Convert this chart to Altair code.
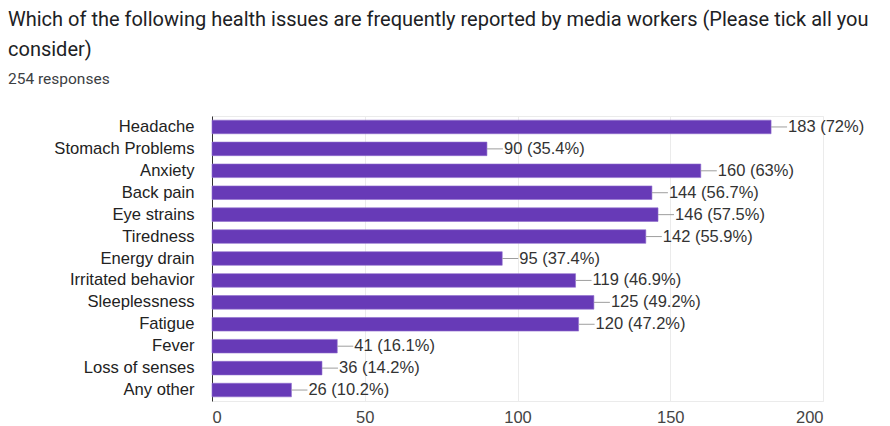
import altair as alt
import pandas as pd

categories = ["Headache", "Stomach Problems", "Anxiety", "Back pain", "Eye strains",
              "Tiredness", "Energy drain", "Irritated behavior", "Sleeplessness",
              "Fatigue", "Fever", "Loss of senses", "Any other"]
counts = [183, 90, 160, 144, 146, 142, 95, 119, 125, 120, 41, 36, 26]
percents = ["72%", "35.4%", "63%", "56.7%", "57.5%", "55.9%", "37.4%", "46.9%",
            "49.2%", "47.2%", "16.1%", "14.2%", "10.2%"]
x_ticks = [0, 50, 100, 150, 200]

df = pd.DataFrame({"issue": categories, "count": counts, "pct": percents})
df["label"] = [f"{c} ({p})" for c, p in zip(counts, percents)]

y_enc = alt.Y("issue:N", sort=categories, title=None,
              scale=alt.Scale(paddingInner=0.38, paddingOuter=0.19),
              axis=alt.Axis(labelFont="Liberation Sans", labelFontSize=16.6,
                            labelColor="#222222", labelPadding=18, ticks=False,
                            domainColor="#333333", domainWidth=1, labelLimit=300))
x_enc = alt.X("count:Q", title=None,
              scale=alt.Scale(domain=[0, 200], nice=False),
              axis=alt.Axis(values=x_ticks, labelFont="Liberation Sans", labelFontSize=16.5,
                            labelColor="#444444", labelPadding=8, ticks=False,
                            domain=False, gridColor="#ebebeb"))

bars = alt.Chart(df).mark_bar(color="#673AB7", stroke="#8f6ccc", strokeWidth=0.6).encode(
    x=x_enc, y=y_enc)
leaders = alt.Chart(df).mark_rule(color="#9e9e9e", strokeWidth=1, x2Offset=16).encode(
    x="count:Q", x2="count:Q", y=alt.Y("issue:N", sort=categories))
labels = alt.Chart(df).mark_text(align="left", baseline="middle", dx=17,
                                 font="Liberation Sans", fontSize=16.5,
                                 color="#333333").encode(
    x="count:Q", y=alt.Y("issue:N", sort=categories), text="label:N")

chart = alt.layer(bars, leaders, labels).properties(
    width=611, height=285,
    autosize=alt.AutoSizeParams(type="none"),
    padding={"left": 204, "top": 108, "right": 59, "bottom": 25},
    title=alt.TitleParams(
        text=["Which of the following health issues are frequently reported by media workers (Please tick all you",
              "consider)"],
        subtitle="254 responses",
        anchor="start", frame="group", dx=-204, dy=-25,
        font="Roboto", fontSize=20, fontWeight="normal", color="#202124",
        lineHeight=30, subtitleFont="Roboto", subtitleFontSize=15.5,
        subtitleColor="#3c4043", subtitlePadding=12),
).configure_view(stroke="#ebebeb")

chart.save("out.html", embed_options={"renderer": "svg", "actions": False})
